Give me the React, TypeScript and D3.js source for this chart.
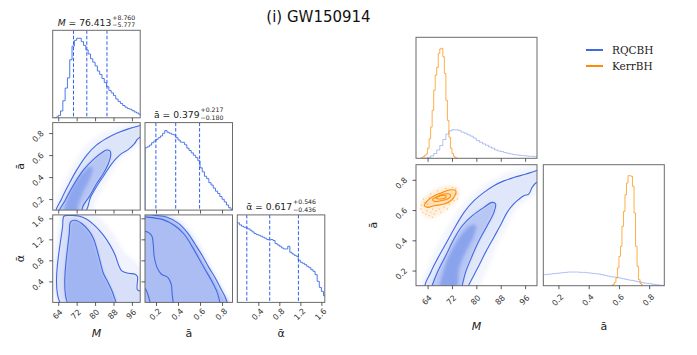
import { useEffect, useRef } from 'react'
import * as d3 from 'd3'

const W = 697
const H = 355
const BLUE = '#4169e1'
const ORANGE = '#ff8c00'
const FONT = 'DejaVu Sans, sans-serif'

// tick values
const mTicks = [64, 72, 80, 88, 96]
const aTicks = [0.2, 0.4, 0.6, 0.8]
const alphaTicks = [0.4, 0.8, 1.2, 1.6]

// left corner: 1D marginals [bin centre, count]
const mHist = [
  [62.5, 0], [63.5, 2], [64.5, 7], [65.5, 20], [66.5, 50], [67.5, 87], [68.5, 117], [69.5, 170],
  [70.5, 210], [71.5, 227], [72.5, 233], [73.5, 233], [74.5, 223], [75.5, 212], [76.5, 199],
  [77.5, 187], [78.5, 173], [79.5, 163], [80.5, 152], [81.5, 137], [82.5, 127], [83.5, 115],
  [84.5, 103], [85.5, 91], [86.5, 80], [87.5, 73], [88.5, 65], [89.5, 55], [90.5, 48], [91.5, 42],
  [92.5, 36], [93.5, 31], [94.5, 27], [95.5, 25], [96.5, 21], [97.5, 17], [98.5, 14], [99.5, 10],
]
const aHist = [
  [0.11, 184], [0.13, 187], [0.15, 192], [0.17, 199], [0.19, 204], [0.21, 209], [0.23, 214],
  [0.25, 219], [0.27, 227], [0.29, 235], [0.31, 230], [0.33, 227], [0.35, 224], [0.37, 222],
  [0.39, 214], [0.41, 207], [0.43, 201], [0.45, 200], [0.47, 193], [0.49, 183], [0.51, 176],
  [0.53, 169], [0.55, 162], [0.57, 155], [0.59, 146], [0.61, 125], [0.63, 113], [0.65, 100],
  [0.67, 93], [0.69, 81], [0.71, 74], [0.73, 65], [0.75, 56], [0.77, 49], [0.79, 40], [0.81, 32],
  [0.83, 24], [0.85, 15], [0.87, 7], [0.89, 2],
]
const alphaHist = [
  [0.02, 238], [0.06, 232], [0.10, 228], [0.14, 225], [0.18, 223], [0.22, 220], [0.26, 216],
  [0.30, 211], [0.34, 206], [0.38, 203], [0.42, 201], [0.46, 198], [0.50, 195], [0.54, 192],
  [0.58, 188], [0.62, 187], [0.66, 188], [0.70, 185], [0.74, 176], [0.78, 172], [0.82, 168],
  [0.86, 163], [0.90, 160], [0.94, 160], [0.98, 168], [1.02, 150], [1.06, 145], [1.10, 141],
  [1.14, 138], [1.18, 126], [1.22, 120], [1.26, 117], [1.30, 113], [1.34, 108], [1.38, 104],
  [1.42, 98], [1.46, 93], [1.50, 83], [1.54, 63], [1.58, 45], [1.62, 33], [1.66, 20],
]
const mQuant = [70.636, 76.413, 85.173]
const aQuant = [0.199, 0.379, 0.596]
const alphaQuant = [0.181, 0.617, 1.163]

// left corner: 2D contours (M, ā)
const maHalo = [[61.5, 0.05], [63.5, 0.22], [66.5, 0.37], [70.5, 0.52], [75, 0.66], [80, 0.76], [85, 0.82], [90, 0.86], [95, 0.89], [101, 0.92], [101, 0.7], [97, 0.66], [93, 0.6], [90, 0.53], [87.5, 0.44], [85, 0.35], [82, 0.24], [79.5, 0.12], [78, 0.05]]
const maOuter = [[63.0, 0.07], [65.5, 0.204], [68.4, 0.326], [72.0, 0.463], [76.4, 0.6], [80.7, 0.692], [85.1, 0.753], [89.4, 0.798], [94.5, 0.838], [98.5, 0.862], [101, 0.875], [101, 0.79], [98.4, 0.744], [97.0, 0.701], [94.5, 0.652], [91.6, 0.615], [89.2, 0.57], [86.8, 0.509], [83.9, 0.417], [81.0, 0.326], [78.1, 0.219], [75.2, 0.07]]
const maInner = [[64.3, 0.07], [67.0, 0.188], [70.6, 0.326], [74.9, 0.463], [79.3, 0.561], [82.9, 0.621], [85.1, 0.646], [86.5, 0.637], [86.8, 0.6], [85.8, 0.524], [83.6, 0.432], [80.7, 0.341], [77.8, 0.234], [74.9, 0.143], [73.4, 0.07]]
const maCore = [[67.0, 0.08], [68.4, 0.234], [71.3, 0.356], [74.9, 0.448], [77.8, 0.493], [79.0, 0.478], [77.8, 0.387], [74.9, 0.265], [72.8, 0.158], [71.8, 0.08]]

// left corner: 2D contours (M, ᾱ)
const mlHalo = [[64.5, -0.1], [64.5, 1.55], [66, 1.75], [75, 1.75], [82, 1.6], [88, 1.3], [93, 0.95], [98, 0.75], [101, 0.6], [101, -0.1]]
const mlOuter = [[65.95, -0.08], [65.95, 1.468], [66.5, 1.64], [69.1, 1.655], [72.8, 1.645], [76.4, 1.582], [80.0, 1.456], [83.6, 1.279], [86.5, 1.09], [88.7, 0.901], [90.2, 0.712], [91.6, 0.599], [94.5, 0.555], [97.4, 0.536], [98.4, 0.492], [98.4, 0.24], [100.5, 0.19], [100.5, -0.08]]
const mlInner = [[69.1, -0.08], [68.85, 1.342], [69.4, 1.531], [71.3, 1.563], [74.2, 1.5], [77.1, 1.374], [79.3, 1.216], [80.7, 1.027], [82.2, 0.775], [83.6, 0.555], [85.8, 0.366], [88.0, 0.145], [88.8, -0.08]]

// left corner: 2D contours (ā, ᾱ)
const alHalo = [[0.08, 1.75], [0.29, 1.72], [0.41, 1.58], [0.5, 1.4], [0.58, 1.17], [0.65, 0.9], [0.71, 0.66], [0.77, 0.44], [0.83, 0.2], [0.88, -0.05], [0.05, -0.05]]
const alRegion = [[0.08, 1.7], [0.264, 1.651], [0.383, 1.525], [0.473, 1.355], [0.547, 1.134], [0.622, 0.851], [0.681, 0.631], [0.741, 0.41], [0.8, 0.19], [0.854, -0.05], [0.05, -0.05]]
const alEdgeA = [[0.12, 1.72], [0.16, 1.67], [0.294, 1.626], [0.398, 1.513], [0.487, 1.324], [0.556, 1.103], [0.622, 0.883], [0.681, 0.662], [0.741, 0.454], [0.794, 0.24], [0.83, 0.095], [0.854, -0.05]]
const alEdgeB = [[0.06, 1.63], [0.1, 1.626], [0.264, 1.575], [0.368, 1.462], [0.458, 1.292], [0.526, 1.071], [0.586, 0.851], [0.645, 0.631], [0.705, 0.41], [0.756, 0.19], [0.785, -0.05]]
const alInnerLine = [[0.06, 1.33], [0.1, 1.355], [0.16, 1.273], [0.175, 1.103], [0.183, 0.883], [0.21, 0.662], [0.249, 0.536], [0.309, 0.473], [0.338, 0.347], [0.347, 0.158], [0.359, -0.05]]
const alCornerLine = [[0.06, 0.28], [0.1, 0.265], [0.13, 0.126], [0.151, -0.05]]

// right plot: 1D marginals
const mHistRQ = [
  [62.5, 0], [63.5, 1], [64.5, 3], [65.5, 7], [66.5, 14], [67.5, 25], [68.5, 38], [69.5, 56],
  [70.5, 72], [71.5, 82], [72.5, 85], [73.5, 85], [74.5, 83], [75.5, 78], [76.5, 75], [77.5, 70],
  [78.5, 66], [79.5, 60], [80.5, 53], [81.5, 48], [82.5, 43], [83.5, 39], [84.5, 34], [85.5, 30],
  [86.5, 25], [87.5, 22], [88.5, 20], [89.5, 17], [90.5, 15], [91.5, 13], [92.5, 11], [93.5, 10],
  [94.5, 9], [95.5, 8], [96.5, 7], [97.5, 6], [98.5, 6], [99.5, 5],
]
const mHistKerr = [
  [62.25, 2], [62.75, 5], [63.25, 9], [63.75, 13], [64.25, 30], [64.75, 58], [65.25, 93],
  [65.75, 143], [66.25, 203], [66.75, 248], [67.25, 271], [67.75, 313], [68.25, 326], [68.75, 328],
  [69.25, 303], [69.75, 253], [70.25, 173], [70.75, 113], [71.25, 63], [71.75, 30], [72.25, 14],
  [72.75, 6], [73.25, 2], [73.75, 0],
]
const aHistRQ = [
  [0.11, 33], [0.13, 34], [0.15, 35], [0.17, 36], [0.19, 37], [0.21, 38], [0.23, 39], [0.25, 40],
  [0.27, 41], [0.29, 41], [0.31, 41], [0.33, 41], [0.35, 40], [0.37, 40], [0.39, 39], [0.41, 38],
  [0.43, 37], [0.45, 36], [0.47, 35], [0.49, 33], [0.51, 31], [0.53, 29], [0.55, 27], [0.57, 26],
  [0.59, 25], [0.61, 23], [0.63, 21], [0.65, 19], [0.67, 17], [0.69, 16], [0.71, 14], [0.73, 12],
  [0.75, 10], [0.77, 8], [0.79, 7], [0.81, 6], [0.83, 4], [0.85, 3], [0.87, 2], [0.89, 1],
]
const aHistKerr = [
  [0.555, 1], [0.565, 4], [0.575, 10], [0.585, 23], [0.595, 53], [0.605, 88], [0.615, 118],
  [0.625, 178], [0.635, 223], [0.645, 273], [0.655, 308], [0.665, 330], [0.675, 330], [0.685, 328],
  [0.695, 298], [0.705, 218], [0.715, 118], [0.725, 58], [0.735, 18], [0.745, 6], [0.755, 2],
]

// right plot: 2D contours (M, ā)
const rqHalo = [[61.5, 0.05], [63.5, 0.2], [65.5, 0.3], [68.5, 0.42], [72, 0.54], [76, 0.65], [80, 0.73], [85, 0.8], [90, 0.85], [95, 0.88], [101, 0.92], [101, 0.72], [98, 0.68], [94, 0.62], [91.5, 0.55], [89.5, 0.46], [87, 0.37], [84.5, 0.25], [82, 0.14], [80, 0.05]]
const rqOuter = [[63.25, 0.085], [65.1, 0.191], [67.27, 0.279], [70.0, 0.377], [72.7, 0.476], [75.98, 0.585], [79.24, 0.662], [82.5, 0.717], [85.77, 0.761], [89.03, 0.793], [92.3, 0.815], [96.1, 0.837], [99.0, 0.855], [101, 0.866], [101, 0.79], [99.7, 0.782], [98.3, 0.75], [97.2, 0.706], [95.56, 0.695], [93.4, 0.662], [91.76, 0.629], [90.1, 0.585], [88.17, 0.509], [85.77, 0.421], [83.05, 0.322], [80.33, 0.213], [77.6, 0.108], [77.0, 0.08]]
const rqInner = [[65.3, 0.08], [65.64, 0.108], [67.27, 0.191], [70.0, 0.3], [72.7, 0.41], [75.43, 0.498], [78.7, 0.563], [82.5, 0.618], [85.2, 0.651], [86.3, 0.64], [85.77, 0.585], [83.6, 0.498], [80.9, 0.399], [78.7, 0.301], [76.5, 0.191], [75.43, 0.108], [75.1, 0.08]]
const rqCore = [[68.36, 0.08], [69.45, 0.213], [71.6, 0.322], [74.9, 0.432], [78.15, 0.498], [79.8, 0.498], [79.24, 0.432], [76.5, 0.322], [74.35, 0.213], [73.26, 0.08]]
const kerrHalo = [[61.8, 0.6], [63, 0.56], [65.5, 0.545], [69, 0.58], [72, 0.63], [74.3, 0.68], [74, 0.75], [71, 0.765], [67, 0.745], [63.5, 0.7], [61.5, 0.65]]
const kerrOuter = [[62.92, 0.629], [64.0, 0.662], [66.18, 0.695], [68.9, 0.717], [71.6, 0.734], [73.26, 0.728], [72.93, 0.695], [71.6, 0.662], [69.45, 0.64], [66.18, 0.629], [64.0, 0.618]]
const kerrMid = [[65.64, 0.669], [67.27, 0.69], [69.45, 0.706], [71.08, 0.706], [71.6, 0.695], [70.54, 0.673], [68.36, 0.662], [66.18, 0.658]]
const kerrCore = [[66.7, 0.68], [68.36, 0.695], [70.0, 0.695], [70.0, 0.684], [68.36, 0.673]]
const kerrDots = [
  [61.83, 0.607], [62.38, 0.585], [63.46, 0.574], [64.55, 0.563], [65.1, 0.585], [62.92, 0.651],
  [62.7, 0.673], [64.55, 0.684], [65.64, 0.607], [66.73, 0.596], [67.8, 0.607], [69.45, 0.618],
  [71.1, 0.64], [72.7, 0.662], [73.6, 0.706], [73.26, 0.743], [72.2, 0.75], [70.0, 0.743],
  [67.27, 0.728], [65.1, 0.706], [64.0, 0.64], [66.2, 0.574], [68.36, 0.585], [70.5, 0.607],
  [63.8, 0.596], [62.0, 0.634], [65.6, 0.552], [73.8, 0.673],
]

const legendItems = [
  { label: 'RQCBH', color: BLUE },
  { label: 'KerrBH', color: ORANGE },
]

export default function App() {
  const ref = useRef<SVGSVGElement>(null)

  useEffect(() => {
    const svg = d3.select(ref.current)
    svg.selectAll('*').remove()
    const defs = svg.append('defs')
    defs.append('filter').attr('id', 'soft')
      .attr('x', '-10%').attr('y', '-10%').attr('width', '120%').attr('height', '120%')
      .append('feGaussianBlur').attr('stdDeviation', 1.8)

    let clipN = 0
    const panel = (x0: number, y0: number, size: number, xDom: number[], yDom: number[]) => {
      const id = `clip${clipN++}`
      defs.append('clipPath').attr('id', id).append('rect')
        .attr('x', x0).attr('y', y0).attr('width', size).attr('height', size)
      const x = d3.scaleLinear().domain(xDom).range([x0, x0 + size])
      const y = d3.scaleLinear().domain(yDom).range([y0 + size, y0])
      const body = svg.append('g').attr('clip-path', `url(#${id})`)
      const soft = body.append('g').attr('filter', 'url(#soft)')
      return { x0, y0, size, x, y, body, soft }
    }

    const frame = (p: any) => {
      svg.append('rect').attr('x', p.x0).attr('y', p.y0)
        .attr('width', p.size).attr('height', p.size)
        .attr('fill', 'none').attr('stroke', '#6b6b6b').attr('stroke-width', 1)
    }

    const xAxis = (p: any, ticks: number[], fmt: any, off: number) => {
      const g = svg.append('g')
        .attr('transform', `translate(0,${p.y0 + p.size})`)
        .call(d3.axisBottom(p.x).tickValues(ticks).tickSize(3.5).tickFormat(fmt || (() => '')))
      g.select('.domain').remove()
      g.selectAll('line').attr('stroke', '#333').attr('stroke-width', 0.8)
      g.selectAll('text')
        .attr('y', 0).attr('dy', null)
        .attr('transform', `translate(-1,${off}) rotate(-45)`)
        .attr('text-anchor', 'middle').attr('dominant-baseline', 'central')
        .style('font-size', '8px').style('font-family', FONT).attr('fill', '#333')
    }

    const yAxis = (p: any, ticks: number[], fmt: any) => {
      const g = svg.append('g')
        .attr('transform', `translate(${p.x0},0)`)
        .call(d3.axisLeft(p.y).tickValues(ticks).tickSize(3.5).tickFormat(fmt || (() => '')))
      g.select('.domain').remove()
      g.selectAll('line').attr('stroke', '#333').attr('stroke-width', 0.8)
      g.selectAll('text')
        .attr('x', 0).attr('dy', null)
        .attr('transform', 'translate(-14.5,3) rotate(-45)')
        .attr('text-anchor', 'middle').attr('dominant-baseline', 'central')
        .style('font-size', '8px').style('font-family', FONT).attr('fill', '#333')
    }

    const hist = (p: any, bins: number[][], color: string, opacity: number, width = 1) => {
      const hw = (bins[1][0] - bins[0][0]) / 2
      const pts: number[][] = [[bins[0][0] - hw, 0]]
      bins.forEach(([c, v]) => { pts.push([c - hw, v]); pts.push([c + hw, v]) })
      pts.push([bins[bins.length - 1][0] + hw, 0])
      p.body.append('path')
        .attr('d', d3.line<number[]>().x(d => p.x(d[0])).y(d => p.y(d[1]))(pts))
        .attr('fill', 'none').attr('stroke', color).attr('stroke-opacity', opacity)
        .attr('stroke-width', width)
    }

    const quantiles = (p: any, qs: number[]) => {
      qs.forEach(q => {
        p.body.append('line')
          .attr('x1', p.x(q)).attr('x2', p.x(q))
          .attr('y1', p.y0).attr('y2', p.y0 + p.size)
          .attr('stroke', '#2f5ef0').attr('stroke-width', 1).attr('stroke-dasharray', '3.5,2')
      })
    }

    const closed = (p: any) => d3.line<number[]>().x(d => p.x(d[0])).y(d => p.y(d[1])).curve(d3.curveCatmullRomClosed)
    const open = (p: any) => d3.line<number[]>().x(d => p.x(d[0])).y(d => p.y(d[1])).curve(d3.curveCatmullRom)

    const fill = (p: any, pts: number[][], color: string, op: number) => {
      p.soft.append('path').attr('d', closed(p)(pts)).attr('fill', color).attr('fill-opacity', op)
    }
    const contour = (p: any, pts: number[][], color: string, isClosed = true) => {
      p.body.append('path').attr('d', (isClosed ? closed(p) : open(p))(pts))
        .attr('fill', 'none').attr('stroke', color).attr('stroke-width', 1.1)
    }

    // ---------- left corner plot ----------
    const S = 87.5
    const cols = [52.7, 145, 237.3]
    const rows = [30.3, 122.6, 214.9]
    const mDomL = [61.6, 99.6]
    const aDom = [0.1, 0.895]
    const alDom = [0, 1.665]
    const fmtM = d3.format('d')
    const fmt1 = d3.format('.1f')

    const p00 = panel(cols[0], rows[0], S, mDomL, [0, d3.max(mHist, d => d[1])! * 1.1])
    hist(p00, mHist, '#4f78ea', 1)
    quantiles(p00, mQuant)
    frame(p00)
    xAxis(p00, mTicks, null, 12)

    const p10 = panel(cols[0], rows[1], S, mDomL, aDom)
    fill(p10, maHalo, BLUE, 0.06)
    fill(p10, maOuter, BLUE, 0.12)
    fill(p10, maInner, BLUE, 0.26)
    fill(p10, maCore, BLUE, 0.35)
    contour(p10, maOuter, BLUE)
    contour(p10, maInner, BLUE)
    frame(p10)
    xAxis(p10, mTicks, null, 12)
    yAxis(p10, aTicks, fmt1)

    const p11 = panel(cols[1], rows[1], S, aDom, [0, d3.max(aHist, d => d[1])! * 1.1])
    hist(p11, aHist, '#4f78ea', 1)
    quantiles(p11, aQuant)
    frame(p11)
    xAxis(p11, aTicks, null, 12)

    const p20 = panel(cols[0], rows[2], S, mDomL, alDom)
    fill(p20, mlHalo, BLUE, 0.07)
    fill(p20, mlOuter, BLUE, 0.15)
    fill(p20, mlInner, BLUE, 0.36)
    contour(p20, mlOuter, BLUE)
    contour(p20, mlInner, BLUE)
    frame(p20)
    xAxis(p20, mTicks, fmtM, 12)
    yAxis(p20, alphaTicks, fmt1)

    const p21 = panel(cols[1], rows[2], S, aDom, alDom)
    fill(p21, alHalo, BLUE, 0.1)
    fill(p21, alRegion, BLUE, 0.38)
    contour(p21, alEdgeA, BLUE, false)
    contour(p21, alEdgeB, BLUE, false)
    contour(p21, alInnerLine, BLUE, false)
    contour(p21, alCornerLine, BLUE, false)
    frame(p21)
    xAxis(p21, aTicks, fmt1, 12)
    yAxis(p21, alphaTicks, null)

    const p22 = panel(cols[2], rows[2], S, alDom, [0, d3.max(alphaHist, d => d[1])! * 1.1])
    hist(p22, alphaHist, '#4f78ea', 1)
    quantiles(p22, alphaQuant)
    frame(p22)
    xAxis(p22, alphaTicks, fmt1, 12)

    // titles over the diagonal: value with stacked +/- errors
    const diagTitle = (cx: number, base: number, sym: string, italic: boolean, val: string, plus: string, minus: string) => {
      const main = svg.append('text').attr('y', base)
        .style('font-size', '9.2px').style('font-family', FONT).attr('fill', '#222')
      main.append('tspan').attr('font-style', italic ? 'italic' : null).text(sym)
      main.append('tspan').text(` = ${val}`)
      const sup = svg.append('text').attr('y', base - 5.6)
        .style('font-size', '6.2px').style('font-family', FONT).attr('fill', '#222').text(plus)
      const sub = svg.append('text').attr('y', base + 1.9)
        .style('font-size', '6.2px').style('font-family', FONT).attr('fill', '#222').text(minus)
      const wm = (main.node() as SVGTextElement).getComputedTextLength()
      const ws = Math.max((sup.node() as SVGTextElement).getComputedTextLength(),
        (sub.node() as SVGTextElement).getComputedTextLength())
      const left = cx - (wm + ws + 1) / 2
      main.attr('x', left)
      sup.attr('x', left + wm + 1)
      sub.attr('x', left + wm + 1)
    }
    diagTitle(cols[0] + S / 2, rows[0] - 4.8, 'M', true, '76.413', '+8.760', '\u22125.777')
    diagTitle(cols[1] + S / 2, rows[1] - 5, 'ā', false, '0.379', '+0.217', '\u22120.180')
    diagTitle(cols[2] + S / 2, rows[2] - 5, 'ᾱ', false, '0.617', '+0.546', '\u22120.436')

    const axisLabel = (x: number, y: number, t: string, italic: boolean, rot = 0) => {
      svg.append('text')
        .attr('transform', `translate(${x},${y}) rotate(${rot})`)
        .attr('text-anchor', 'middle').attr('dominant-baseline', 'central')
        .style('font-size', '11px').style('font-family', FONT)
        .attr('font-style', italic ? 'italic' : null).attr('fill', '#222').text(t)
    }
    axisLabel(cols[0] + S / 2, 333, 'M', true)
    axisLabel(cols[1] + S / 2, 333, 'ā', false)
    axisLabel(cols[2] + S / 2, 333, 'ᾱ', false)
    axisLabel(20, rows[1] + S / 2, 'ā', false, -90)
    axisLabel(20, rows[2] + S / 2, 'ᾱ', false, -90)

    // ---------- right comparison plot ----------
    const R = 121
    const rc = [416, 543.3]
    const rr = [37.3, 164.7]
    const mDomR = [60.2, 99.9]
    const aDomR = [0.1, 0.9]

    const q00 = panel(rc[0], rr[0], R, mDomR, [0, d3.max(mHistKerr, d => d[1])! * 1.1])
    hist(q00, mHistRQ, BLUE, 0.4)
    hist(q00, mHistKerr, ORANGE, 0.7)
    frame(q00)
    xAxis(q00, mTicks, null, 14.5)

    const q10 = panel(rc[0], rr[1], R, mDomR, aDomR)
    fill(q10, rqHalo, BLUE, 0.06)
    fill(q10, rqOuter, BLUE, 0.11)
    fill(q10, rqInner, BLUE, 0.26)
    fill(q10, rqCore, BLUE, 0.38)
    contour(q10, rqOuter, BLUE)
    contour(q10, rqInner, BLUE)
    fill(q10, kerrHalo, ORANGE, 0.12)
    fill(q10, kerrOuter, ORANGE, 0.2)
    q10.body.selectAll('circle.kd').data(kerrDots).enter().append('circle')
      .attr('class', 'kd')
      .attr('cx', d => q10.x(d[0])).attr('cy', d => q10.y(d[1])).attr('r', 0.7)
      .attr('fill', ORANGE).attr('fill-opacity', 0.5)
    contour(q10, kerrOuter, ORANGE)
    contour(q10, kerrMid, ORANGE)
    contour(q10, kerrCore, ORANGE)
    frame(q10)
    xAxis(q10, mTicks, fmtM, 14.5)
    yAxis(q10, aTicks, fmt1)

    const q11 = panel(rc[1], rr[1], R, aDomR, [0, d3.max(aHistKerr, d => d[1])! * 1.1])
    hist(q11, aHistRQ, BLUE, 0.4)
    hist(q11, aHistKerr, ORANGE, 0.7)
    frame(q11)
    xAxis(q11, aTicks, fmt1, 14.5)

    axisLabel(rc[0] + R / 2, 326, 'M', true)
    axisLabel(rc[1] + R / 2, 326, 'ā', false)
    axisLabel(373, rr[1] + R / 2, 'ā', false, -90)

    // legend
    const lg = svg.append('g').attr('transform', 'translate(586,50)')
    legendItems.forEach((it, i) => {
      lg.append('line').attr('x1', 0).attr('x2', 17).attr('y1', i * 16).attr('y2', i * 16)
        .attr('stroke', it.color).attr('stroke-width', 2)
      lg.append('text').attr('x', 26).attr('y', i * 16 + 4)
        .style('font-size', '10.5px').style('font-family', 'DejaVu Serif, serif')
        .attr('fill', '#222').text(it.label)
    })

    // title
    svg.append('text').attr('x', 318.5).attr('y', 22)
      .attr('text-anchor', 'middle')
      .style('font-size', '15px').style('font-family', FONT).attr('fill', '#111')
      .text('(i) GW150914')
  }, [])

  return (
    <svg
      ref={ref}
      width={W}
      height={H}
      style={{ position: 'absolute', left: 0, top: 0, background: '#fff' }}
    />
  )
}
